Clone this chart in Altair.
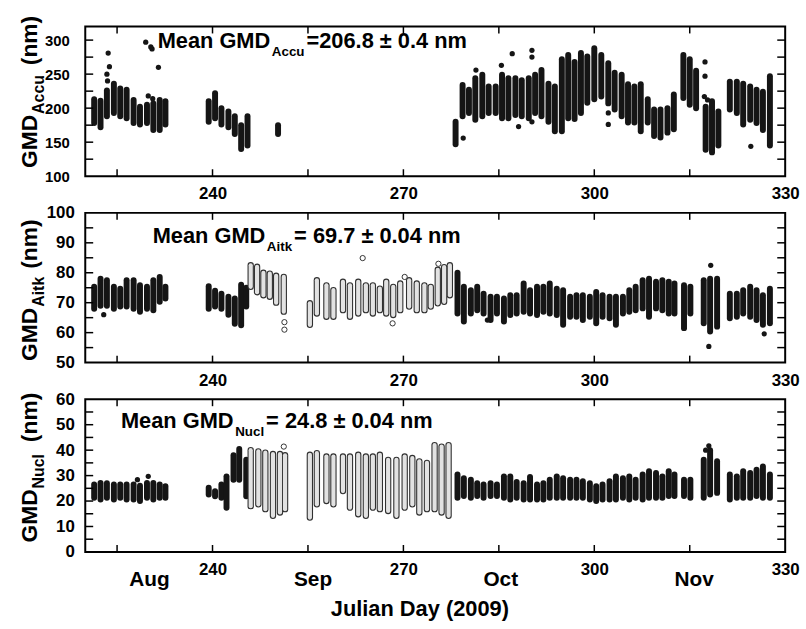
import altair as alt
import pandas as pd

FONT = "Liberation Sans"
FILL = "#151515"

# ---------------- Panel 1 : GMD Accumulation mode (filled) ----------------
P1_DAY = [221.4, 222.4, 223.4, 224.5, 225.5, 226.5, 227.6, 228.6, 229.7, 230.7, 231.7, 232.6,
          239.4, 240.4, 241.4, 242.5, 243.5, 244.5, 245.5, 250.3,
          278.2, 279.3, 280.3, 281.3, 282.4, 283.4, 284.5, 285.5, 286.5, 287.6, 288.6, 289.7,
          290.7, 291.7, 292.8, 293.8, 294.9, 295.9, 296.9, 297.9, 298.9, 300.0, 301.1, 302.2,
          303.2, 304.3, 305.3, 306.3, 307.3, 308.4, 309.4, 310.4, 311.5, 312.5,
          314.0, 315.0, 316.0, 317.5, 318.5, 319.5,
          321.3, 322.4, 323.4, 324.5, 325.5, 326.5, 327.6]
P1_LO = [178, 172, 188, 193, 188, 185, 178, 176, 178, 168, 168, 176,
         180, 185, 176, 172, 162, 140, 145, 162,
         147, 188, 193, 183, 188, 193, 193, 185, 185, 190, 188, 185,
         193, 188, 180, 166, 166, 185, 184, 193, 208, 213, 217, 207,
         198, 188, 179, 179, 166, 179, 159, 157, 164, 169,
         215, 205, 200, 139, 135, 145,
         198, 193, 176, 183, 178, 168, 145]
P1_HI = [213, 211, 226, 236, 229, 227, 212, 202, 205, 207, 212, 210,
         210, 222, 200, 195, 188, 175, 188, 175,
         180, 234, 227, 244, 249, 232, 232, 249, 244, 244, 241, 244,
         249, 256, 236, 232, 272, 278, 268, 281, 276, 288, 278, 266,
         252, 249, 235, 232, 235, 213, 198, 198, 200, 220,
         278, 272, 255, 202, 210, 195,
         239, 239, 236, 232, 227, 224, 247]
P1_OUT_DAY = [223.6, 223.8, 223.4, 223.5, 229.5, 230.3, 230.5, 229.9, 230.6, 231.5, 279.4,
              281.4, 285.4, 287.1, 288.1, 290.2, 290.2, 290.2, 302.2, 302.2, 317.4, 317.4,
              317.3, 317.8, 324.6]
P1_OUT_VAL = [281, 261, 250, 240, 297, 290, 287, 218, 214, 260, 156,
              256, 263, 280, 173, 285, 275, 180, 193, 176, 268, 247,
              217, 212, 144]

# ---------------- Panel 2 : GMD Aitken mode ----------------
P2_FDAY = [221.4, 222.4, 223.4, 224.5, 225.5, 226.5, 227.6, 228.6, 229.7, 230.7, 231.7, 232.6,
           239.4, 240.4, 241.4, 242.5, 243.5, 244.5, 245.3,
           278.5, 279.5, 280.6, 281.6, 282.6, 283.7, 284.7, 285.8, 286.8, 287.8, 288.9, 289.9,
           291.0, 292.0, 293.0, 294.1, 295.1, 296.2, 297.2, 298.2, 299.3, 300.3, 301.3, 302.4,
           303.4, 304.5, 305.5, 306.5, 307.6, 308.6, 309.7, 310.7, 311.7, 312.6,
           314.1, 315.1, 317.2, 318.2, 319.3,
           321.3, 322.4, 323.4, 324.5, 325.5, 326.5, 327.6]
P2_FLO = [68, 69, 69, 68, 68.7, 68.7, 68, 67, 68, 67.5, 70.3, 71.4,
          68, 68.7, 68, 66, 63, 62.5, 68.7,
          66.4, 63.7, 66.4, 67.5, 66.4, 64.2, 66.4, 63.7, 65.9, 66.4, 67, 66.4,
          65.9, 67, 66.4, 65.9, 62.6, 65.3, 65.3, 64.2, 65.3, 63.1, 65.3, 64.8,
          62.6, 66.4, 67, 67.5, 68.1, 65.3, 68.1, 67.5, 66.4, 66.4,
          61.5, 66.4, 63.1, 60.4, 62,
          64.8, 65.3, 66.4, 65.3, 64.2, 62.6, 63.1]
P2_FHI = [75.3, 78, 77.5, 75.3, 74.7, 77.5, 77.5, 75.8, 75.3, 77.5, 78.6, 75.3,
          75.5, 74, 73, 72, 71.4, 76, 75,
          80, 75.3, 74.2, 75.3, 73, 72, 72, 71.4, 72.5, 72.5, 76.4, 74.2,
          75.3, 75.3, 76.4, 74.7, 74.2, 72, 72.5, 72.5, 72, 73.6, 72.5, 72,
          72, 72, 74.2, 75.3, 77.5, 78, 77, 77.5, 77, 76.4,
          75.8, 75.3, 77.5, 78, 78,
          73, 73, 74.2, 75.3, 74.2, 72.5, 74.7]
P2_ODAY = [246.0, 247.0, 248.0, 249.0, 250.0, 251.2,
           255.3, 256.4, 257.9, 259.0, 260.5, 261.6, 262.9, 264.1, 265.2, 266.3, 267.3,
           268.4, 269.5, 270.9, 272.1, 273.3, 274.3, 275.4, 276.4, 277.3]
P2_OLO = [75.3, 73.5, 72.5, 72, 70, 67,
          62.6, 66.4, 65.3, 65.3, 67.5, 65.3, 66.4, 67.5, 66.4, 67.5, 66.4,
          65.9, 67.5, 68.7, 67.5, 67.5, 68.7, 69.8, 70.3, 72.5]
P2_OHI = [82.5, 82, 80, 79.7, 79, 78.6,
          69.8, 77.5, 75.8, 74.2, 77, 75.8, 77, 75.8, 75.8, 74.7, 77,
          75.3, 76.4, 77.5, 76.4, 75.8, 75.3, 81, 81.9, 82.5]
P2_FOUT_DAY = [222.9, 283.2, 318.3, 318.0, 326.7]
P2_FOUT_VAL = [66, 64.2, 82.5, 55.4, 59.6]
P2_OOUT_DAY = [251.3, 251.3, 263.6, 268.3, 270.2, 275.5]
P2_OOUT_VAL = [63.5, 61, 84.9, 63.1, 78.6, 83]

# ---------------- Panel 3 : GMD Nucleation mode ----------------
P3_FDAY = [221.4, 222.4, 223.4, 224.5, 225.5, 226.5, 227.6, 228.6, 229.7, 230.7, 231.7, 232.6,
           239.4, 240.4, 241.4, 242.2, 243.3, 244.2, 245.3,
           278.5, 279.5, 280.6, 281.6, 282.6, 283.7, 284.7, 285.8, 286.8, 287.8, 288.9, 289.9,
           291.0, 292.0, 293.0, 294.1, 295.1, 296.2, 297.2, 298.2, 299.3, 300.3, 301.3, 302.4,
           303.4, 304.5, 305.5, 306.5, 307.6, 308.6, 309.7, 310.7, 311.7, 312.6,
           314.1, 315.1, 317.2, 318.2, 319.3,
           321.3, 322.4, 323.4, 324.5, 325.5, 326.5, 327.6]
P3_FLO = [21.3, 20.6, 21.3, 20.6, 21.3, 20.6, 20.6, 20, 21.3, 20.6, 21.3, 21.3,
          22.6, 21.9, 21.3, 17.4, 28.4, 28.4, 21.9,
          21.3, 22, 21.3, 22, 21.3, 22, 22, 21.3, 20.6, 21.3, 20.6, 20.6,
          20.6, 20.6, 21.3, 21.3, 21.3, 21.3, 21.3, 21.3, 20.6, 20, 20.6, 20.6,
          20.6, 21.3, 20.6, 21.3, 20.6, 21.3, 21.3, 21.3, 22, 22,
          22, 21.3, 21.3, 22.6, 23.2,
          20.6, 21.3, 21.3, 21.3, 22, 21.3, 21.3]
P3_FHI = [26.5, 27.1, 27, 26.5, 26.5, 26.5, 26.5, 26, 27.1, 27.1, 26.5, 25.8,
          25.2, 23.9, 26.5, 29.7, 38, 40.5, 36.2,
          30.4, 29, 28.4, 27, 26.5, 27, 26.5, 29.7, 29.7, 27.5, 27, 29.5,
          26.5, 27, 28.4, 29.7, 29, 28.4, 28.4, 27.8, 27, 25.8, 26.5, 27.8,
          29.7, 29, 29.7, 28.4, 30.4, 31.7, 31, 29.7, 31.7, 30.4,
          28.4, 28.4, 36.2, 40, 35.6,
          30.4, 29.7, 31.7, 31, 32.3, 33.6, 30.4]
P3_ODAY = [246.0, 247.2, 248.3, 249.5, 250.6, 251.4,
           255.3, 256.4, 257.9, 259.0, 260.5, 261.6, 262.9, 264.1, 265.2, 266.3, 267.6,
           268.9, 270.2, 271.4, 272.5, 273.7, 274.9, 276.0, 277.1]
P3_OLO = [18, 18.7, 16.8, 14.2, 15.5, 16.8,
          13.5, 18.7, 20, 18.7, 23.9, 17.4, 14.8, 14.2, 17.4, 16.8, 16.1,
          14.2, 17.4, 18.7, 15.5, 16.8, 16.8, 15.5, 14.2]
P3_OHI = [40, 39.5, 39, 38.5, 38.5, 38,
          38.2, 38.8, 37.5, 37.5, 37.5, 37.5, 38.2, 37.5, 37.5, 38.2, 36.2,
          36.2, 37.5, 36.9, 35.6, 35, 42, 41.4, 42]
P3_FOUT_DAY = [228.2, 229.9, 317.5, 318.0]
P3_FOUT_VAL = [28.4, 29.7, 40, 41.7]
P3_OOUT_DAY = [251.2]
P3_OOUT_VAL = [41.4]

# ---------------- Axes / labels ----------------
XDOM = [220, 330]
XLABELS = [240, 270, 300, 330]
XTICKS = [225, 240, 255, 270, 285, 300, 315]
MONTHS = ["Aug", "Sep", "Oct", "Nov"]
MONTH_POS = [230.1, 255.8, 285.3, 315.7]

W = 706

# Arial-bold advance widths (em), used only to lay out the composite text pieces
AW = {"A": .722, "c": .556, "u": .611, "i": .278, "t": .333, "k": .556, "N": .722,
      "l": .278, "G": .778, "M": .833, "D": .722, "(": .333, ")": .333, "n": .611,
      "m": .889, "e": .556, "a": .556, " ": .278}


def tw(s, size):
    return sum(AW.get(c, 0.556) for c in s) * size


def text_layer(txt, x, y, size, angle=0):
    mk = dict(font=FONT, fontWeight="bold", fontSize=size, align="left",
              baseline="alphabetic", color="black")
    if angle:
        mk["angle"] = angle
    return alt.Chart(pd.DataFrame({"t": [txt]})).mark_text(**mk).encode(
        x=alt.value(x), y=alt.value(y), text="t:N")


def build_panel(H, ydom, ylabels, yticks, ylab_size, ylab_pad,
                fcols, ocols, fout, oout, sub, rest, ann_x, ann_y,
                t_center, nm_gap, bottom):
    xs = alt.Scale(domain=XDOM, nice=False, zero=False)
    ys = alt.Scale(domain=ydom, nice=False, zero=False)
    xkw = dict(values=XLABELS, format="d", labelFontSize=17, labelFontWeight="bold",
               labelFont=FONT, labelColor="black", labelPadding=10, labelFlush=False,
               ticks=False, domain=False, grid=False)
    if bottom:
        xkw.update(title="Julian Day (2009)", titleFont=FONT, titleFontSize=22,
                   titleFontWeight="bold", titleColor="black", titleX=337, titleY=64,
                   titleAlign="center", titleBaseline="alphabetic")
    else:
        xkw.update(title=None)
    xaxis = alt.Axis(**xkw)
    yaxis = alt.Axis(values=ylabels, format="d", labelFontSize=ylab_size,
                     labelFontWeight="bold", labelFont=FONT, labelColor="black",
                     labelPadding=ylab_pad, ticks=False, domain=False, grid=False,
                     title=None, labelOverlap=False)

    def X(f):
        return alt.X(f, type="quantitative", scale=xs, axis=xaxis)

    def Y(f):
        return alt.Y(f, type="quantitative", scale=ys, axis=yaxis)

    layers = []
    fdf = pd.DataFrame({"day": fcols[0], "lo": fcols[1], "hi": fcols[2]})
    layers.append(alt.Chart(fdf).mark_rule(color=FILL, strokeWidth=6, strokeCap="round").encode(
        x=X("day"), y=Y("lo"), y2="hi:Q"))
    if ocols is not None:
        odf = pd.DataFrame({"day": ocols[0], "lo": ocols[1], "hi": ocols[2]})
        layers.append(alt.Chart(odf).mark_rule(color="#303030", strokeWidth=6.4, strokeCap="round").encode(
            x=X("day"), y=Y("lo"), y2="hi:Q"))
        layers.append(alt.Chart(odf).mark_rule(color="#e2e2e2", strokeWidth=4.2, strokeCap="round").encode(
            x=X("day"), y=Y("lo"), y2="hi:Q"))
    fo = pd.DataFrame({"day": fout[0], "v": fout[1]})
    layers.append(alt.Chart(fo).mark_circle(size=28, color=FILL, opacity=1).encode(
        x=X("day"), y=Y("v")))
    if oout is not None:
        oo = pd.DataFrame({"day": oout[0], "v": oout[1]})
        layers.append(alt.Chart(oo).mark_point(shape="circle", filled=False, fill="white",
                                               fillOpacity=1, stroke="#202020", strokeWidth=0.9,
                                               size=28, opacity=1).encode(
            x=X("day"), y=Y("v")))
    # inward tick marks on all four sides
    xt = pd.DataFrame({"day": XTICKS})
    yt = pd.DataFrame({"v": yticks})
    for y0, y1 in ((0, 7), (H, H - 7)):
        layers.append(alt.Chart(xt).mark_rule(color="black", strokeWidth=1.5).encode(
            x=X("day"), y=alt.value(y0), y2=alt.value(y1)))
    for x0, x1 in ((0, 8), (W, W - 8)):
        layers.append(alt.Chart(yt).mark_rule(color="black", strokeWidth=1.5).encode(
            y=Y("v"), x=alt.value(x0), x2=alt.value(x1)))
    # annotation "Mean GMD_sub = ..."
    big, small = 22, 13.5
    layers.append(text_layer("Mean GMD", ann_x, ann_y, big))
    sx = ann_x + tw("Mean GMD", big) + 1.5
    layers.append(text_layer(sub, sx, ann_y + 8, small))
    layers.append(text_layer(rest, sx + tw(sub, small) + 2, ann_y, big))
    # rotated y title GMD_sub (nm)
    gs, ss = 23, 16
    total = tw("GMD", gs) + 1 + tw(sub, ss) + nm_gap + tw("(nm)", gs)
    yb = t_center + total / 2
    xb = -49
    layers.append(text_layer("GMD", xb, yb, gs, angle=270))
    y_sub = yb - tw("GMD", gs) - 1
    layers.append(text_layer(sub, xb + 7, y_sub, ss, angle=270))
    layers.append(text_layer("(nm)", xb, y_sub - tw(sub, ss) - nm_gap, gs, angle=270))
    if bottom:
        mdf = pd.DataFrame({"m": MONTHS, "day": MONTH_POS})
        layers.append(alt.Chart(mdf).mark_text(font=FONT, fontWeight="bold", fontSize=21,
                                               align="center", baseline="alphabetic",
                                               color="black").encode(
            x=X("day"), y=alt.value(H + 34), text="m:N"))
    return alt.layer(*layers).properties(width=W, height=H)


p1 = build_panel(151, [100, 320], [100, 150, 200, 250, 300],
                 [125, 150, 175, 200, 225, 250, 275, 300], 15, 16,
                 (P1_DAY, P1_LO, P1_HI), None, (P1_OUT_DAY, P1_OUT_VAL), None,
                 "Accu", "=206.8 ± 0.4 nm", 73, 22, 66, 10, False)
p2 = build_panel(151, [50, 100], [50, 60, 70, 80, 90, 100],
                 [55, 60, 65, 70, 75, 80, 85, 90, 95], 17, 11,
                 (P2_FDAY, P2_FLO, P2_FHI), (P2_ODAY, P2_OLO, P2_OHI),
                 (P2_FOUT_DAY, P2_FOUT_VAL), (P2_OOUT_DAY, P2_OOUT_VAL),
                 "Aitk", "= 69.7 ± 0.04 nm", 68, 30, 78, 8, False)
p3 = build_panel(154, [0, 60], [0, 10, 20, 30, 40, 50, 60],
                 [5, 10, 15, 20, 25, 30, 35, 40, 45, 50, 55], 17, 11,
                 (P3_FDAY, P3_FLO, P3_FHI), (P3_ODAY, P3_OLO, P3_OHI),
                 (P3_FOUT_DAY, P3_FOUT_VAL), (P3_OOUT_DAY, P3_OOUT_VAL),
                 "Nucl", "= 24.8 ± 0.04 nm", 36, 29, 69, 12, True)

chart = alt.vconcat(p1, p2, p3, spacing=37, bounds="flush").configure_view(
    stroke="black", strokeWidth=2).properties(
    padding={"left": 17, "top": 12, "right": 5, "bottom": 5}, background="white")

chart.save("out.html", embed_options={"renderer": "svg", "actions": False})
